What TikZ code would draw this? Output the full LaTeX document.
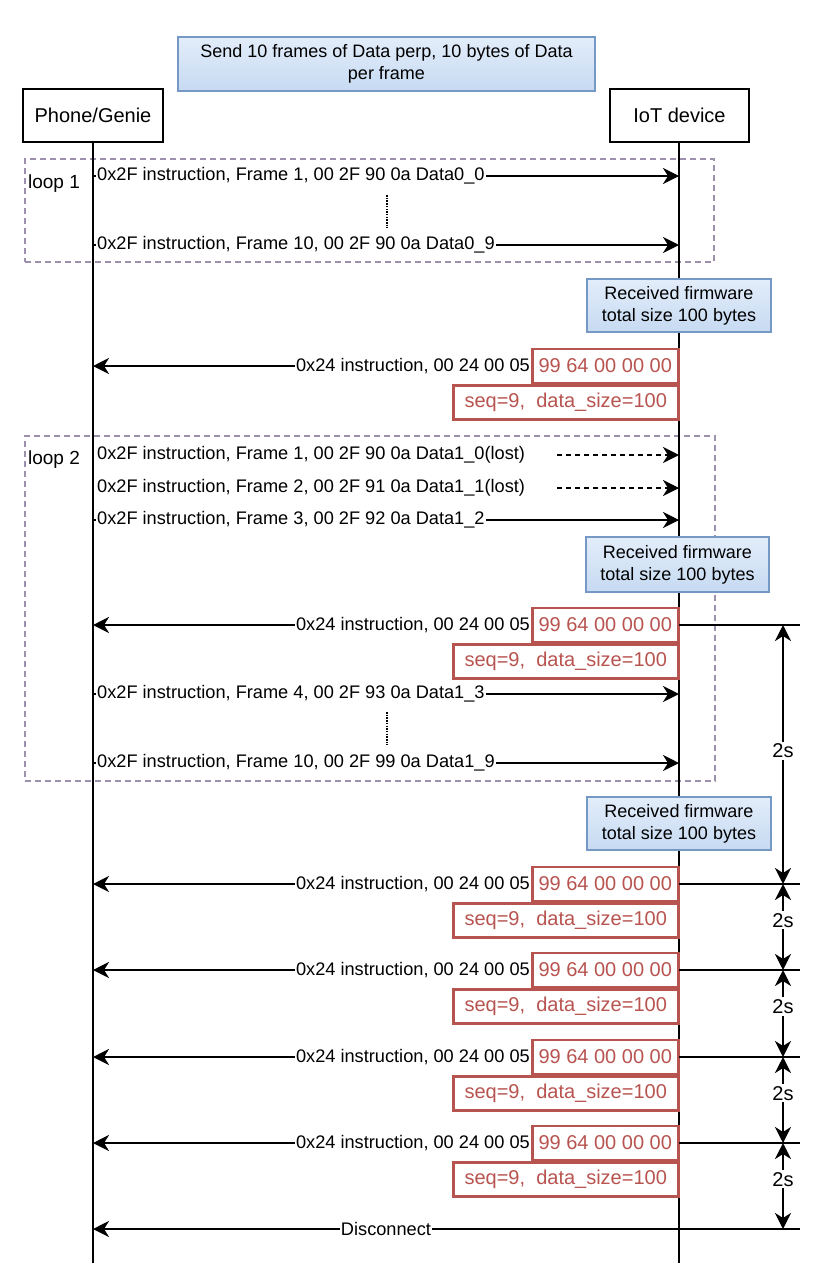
\documentclass[tikz,border=0pt]{standalone}
\usepackage{fontspec}
\setmainfont{Liberation Sans}
\usetikzlibrary{arrows.meta}
\definecolor{notetop}{HTML}{E3EDFA}
\definecolor{notebot}{HTML}{C6DAF2}
\definecolor{notedraw}{HTML}{7698C4}
\definecolor{redc}{HTML}{B85450}
\definecolor{loopc}{HTML}{9C90AC}
\tikzset{
  fs/.style={font=\fontsize{19}{22}\selectfont},
  lifebox/.style={draw, line width=2.5pt, fill=white, minimum height=53pt, inner sep=0pt, font=\fontsize{20}{24}\selectfont},
  note/.style={draw=notedraw, line width=2.5pt, top color=notetop, bottom color=notebot, align=center, inner sep=0pt, font=\fontsize{18}{22}\selectfont},
  redbox/.style={draw=redc, text=redc, fill=white, line width=2.5pt, minimum height=34pt, inner sep=0pt, font=\fontsize{20}{24}\selectfont},
  msg/.style={line width=2.6pt, -{Stealth[length=16pt,width=16pt,inset=5pt]}},
  lostmsg/.style={msg, dash pattern=on 5pt off 4pt},
  lbl/.style={fill=white, inner sep=1pt, font=\fontsize{18.2}{21}\selectfont},
  lifeline/.style={line width=2.8pt},
  loopbox/.style={draw=loopc, line width=2pt, dash pattern=on 6pt off 4pt, inner sep=0pt},
  dim/.style={line width=2.6pt, {Stealth[length=16pt,width=16pt,inset=5pt]}-{Stealth[length=16pt,width=16pt,inset=5pt]}},
  dimlbl/.style={fill=white, inner sep=2pt, font=\fontsize{20}{24}\selectfont},
  tick/.style={line width=2.6pt},
  dotv/.style={line width=1.8pt, dash pattern=on 1.5pt off 1.2pt},
}
\begin{document}
\begin{tikzpicture}[x=1pt,y=-1pt]
\useasboundingbox (0,0) rectangle (832,1280);

% loop frames
\node[loopbox, minimum width=689pt, minimum height=103pt, anchor=north west] (loop1) at (24,158) {};
\node[loopbox, minimum width=690pt, minimum height=345pt, anchor=north west] (loop2) at (24,435) {};
\node[fs] (loop1lbl) at (54,184) {loop 1};
\node[fs] (loop2lbl) at (54,460) {loop 2};

% title and participants
\node[note, minimum width=417pt, minimum height=54pt] (title) at (386.5,64) {Send 10 frames of Data perp, 10 bytes of Data\\per frame};
\node[lifebox, minimum width=140pt] (phone) at (93,115.5) {Phone/Genie};
\node[lifebox, minimum width=139pt] (iot) at (679.5,115.5) {IoT device};
\coordinate (phoneEnd) at (93,1263);
\coordinate (iotEnd) at (679,1263);
\draw[lifeline] (phone.south) -- (phoneEnd);
\draw[lifeline] (iot.south -| iotEnd) -- (iotEnd);

% loop 1 messages
\coordinate (a1L) at (93,176); \coordinate (a1R) at (679,176);
\draw[msg] (a1L) -- (a1R);
\node[lbl, anchor=west] (a1t) at (96,176) {0x2F instruction, Frame 1, 00 2F 90 0a Data0\_0};
\coordinate (d1a) at (387,195); \coordinate (d1b) at (387,228);
\draw[dotv] (d1a) -- (d1b);
\coordinate (a2L) at (93,245); \coordinate (a2R) at (679,245);
\draw[msg] (a2L) -- (a2R);
\node[lbl, anchor=west] (a2t) at (96,245) {0x2F instruction, Frame 10, 00 2F 90 0a Data0\_9};

\node[note, minimum width=184pt, minimum height=53pt] (rec1) at (679,305.5) {Received firmware\\total size 100 bytes};

% loop 2 messages
\node[lbl, anchor=west] (b1t) at (96,455) {0x2F instruction, Frame 1, 00 2F 90 0a Data1\_0(lost)};
\coordinate (b1a) at (557,455); \coordinate (b1R) at (679,455);
\draw[lostmsg] (b1a) -- (b1R);
\node[lbl, anchor=west] (b2t) at (96,488) {0x2F instruction, Frame 2, 00 2F 91 0a Data1\_1(lost)};
\coordinate (b2a) at (557,488); \coordinate (b2R) at (679,488);
\draw[lostmsg] (b2a) -- (b2R);
\coordinate (b3L) at (93,520); \coordinate (b3R) at (679,520);
\draw[msg] (b3L) -- (b3R);
\node[lbl, anchor=west] (b3t) at (96,520) {0x2F instruction, Frame 3, 00 2F 92 0a Data1\_2};

\node[note, minimum width=183pt, minimum height=55pt] (rec2) at (677.5,564.5) {Received firmware\\total size 100 bytes};

\coordinate (b4L) at (93,694); \coordinate (b4R) at (679,694);
\draw[msg] (b4L) -- (b4R);
\node[lbl, anchor=west] (b4t) at (96,694) {0x2F instruction, Frame 4, 00 2F 93 0a Data1\_3};
\coordinate (d2a) at (387,712); \coordinate (d2b) at (387,745);
\draw[dotv] (d2a) -- (d2b);
\coordinate (b5L) at (93,763); \coordinate (b5R) at (679,763);
\draw[msg] (b5L) -- (b5R);
\node[lbl, anchor=west] (b5t) at (96,763) {0x2F instruction, Frame 10, 00 2F 99 0a Data1\_9};

\node[note, minimum width=184pt, minimum height=53pt] (rec3) at (679,823.5) {Received firmware\\total size 100 bytes};

% 0x24 responses
\foreach \i/\y in {1/366,2/625,3/884,4/970,5/1057,6/1143}{
  \coordinate (r\i R) at (679,\y);
  \coordinate (r\i L) at (93,\y);
  \draw[msg] (r\i R) -- (r\i L);
  \node[redbox, minimum width=146pt, anchor=east] (red\i) at (679.5,\y) {99 64 00 00 00};
  \node[lbl, anchor=east] (t\i) at (red\i.west) {0x24 instruction, 00 24 00 05};
  \node[redbox, minimum width=225pt, anchor=north east] (seq\i) at (red\i.south east) {seq=9,\ \ data\_size=100};
}

% disconnect
\coordinate (dcR) at (679,1229); \coordinate (dcL) at (93,1229);
\draw[msg] (dcR) -- node[lbl] (dct) {Disconnect} (dcL);

% timing ticks
\foreach \i/\y in {2/625,3/884,4/970,5/1057,6/1143,7/1229}{
  \coordinate (k\i) at (800,\y);
  \coordinate (kk\i) at (679,\y);
  \draw[tick] (kk\i) -- (k\i);
  \coordinate (m\i) at (783,\y);
}
\draw[dim] (m2) -- node[dimlbl, pos=0.485] (s1) {2s} (m3);
\draw[dim] (m3) -- node[dimlbl, pos=0.42] (s2) {2s} (m4);
\draw[dim] (m4) -- node[dimlbl, pos=0.42] (s3) {2s} (m5);
\draw[dim] (m5) -- node[dimlbl, pos=0.42] (s4) {2s} (m6);
\draw[dim] (m6) -- node[dimlbl, pos=0.42] (s5) {2s} (m7);
\end{tikzpicture}
\end{document}
